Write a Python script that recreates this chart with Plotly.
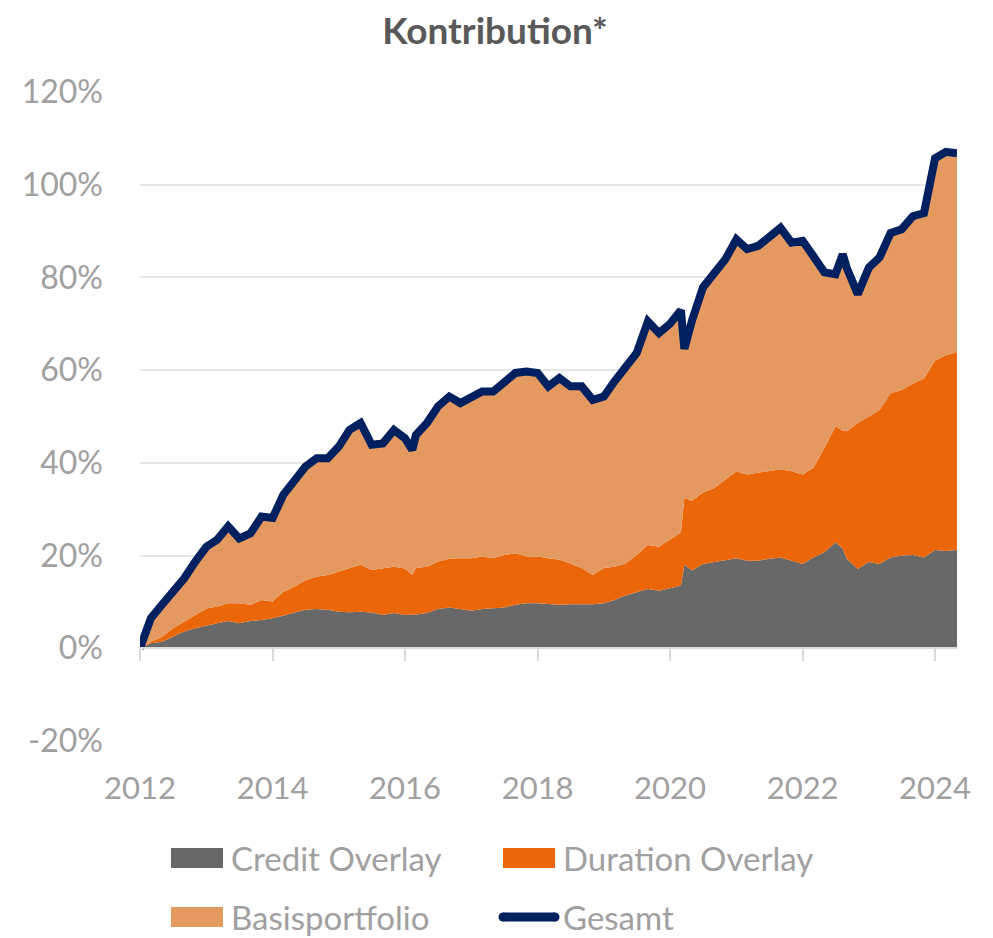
import plotly.graph_objects as go

# bi-monthly readings, contributions in %
dates = [
    "2012-01-01", "2012-03-01", "2012-05-01", "2012-07-01", "2012-09-01", "2012-11-01",
    "2013-01-01", "2013-03-01", "2013-05-01", "2013-07-01", "2013-09-01", "2013-11-01",
    "2014-01-01", "2014-03-01", "2014-05-01", "2014-07-01", "2014-09-01", "2014-11-01",
    "2015-01-01", "2015-03-01", "2015-05-01", "2015-07-01", "2015-09-01", "2015-11-01",
    "2016-01-01", "2016-02-10", "2016-03-01", "2016-05-01", "2016-07-01", "2016-09-01", "2016-11-01",
    "2017-01-01", "2017-03-01", "2017-05-01", "2017-07-01", "2017-09-01", "2017-11-01",
    "2018-01-01", "2018-03-01", "2018-05-01", "2018-07-01", "2018-09-01", "2018-11-01",
    "2019-01-01", "2019-03-01", "2019-05-01", "2019-07-01", "2019-09-01", "2019-11-01",
    "2020-01-01", "2020-03-01", "2020-03-20", "2020-05-01", "2020-07-01", "2020-09-01", "2020-11-01",
    "2021-01-01", "2021-03-01", "2021-05-01", "2021-07-01", "2021-09-01", "2021-11-01",
    "2022-01-01", "2022-03-01", "2022-05-01", "2022-07-01", "2022-08-10", "2022-09-01", "2022-11-01",
    "2023-01-01", "2023-03-01", "2023-05-01", "2023-07-01", "2023-09-01", "2023-11-01",
    "2024-01-01", "2024-03-01", "2024-05-01",
]

credit = [
    0, 1.1, 1.4, 2.5, 3.6, 4.3,
    4.9, 5.4, 5.9, 5.4, 5.9, 6.1,
    6.5, 7.0, 7.7, 8.3, 8.5, 8.3,
    7.9, 7.8, 7.9, 7.7, 7.2, 7.6,
    7.2, 7.2, 7.3, 7.6, 8.5, 8.8, 8.5,
    8.1, 8.5, 8.6, 8.8, 9.4, 9.7,
    9.7, 9.5, 9.4, 9.5, 9.5, 9.5,
    9.7, 10.4, 11.4, 12.1, 12.8, 12.4,
    13.0, 13.5, 18.0, 16.8, 18.2, 18.6, 18.9,
    19.4, 18.9, 18.9, 19.3, 19.6, 18.9,
    18.2, 19.6, 20.7, 22.9, 21.5, 19.3, 17.1,
    18.6, 18.2, 19.6, 20.0, 20.1, 19.6,
    21.2, 21.0, 21.2,
]

duration = [
    0, 0.3, 1.1, 1.8, 2.2, 2.9,
    3.7, 3.6, 3.8, 4.3, 3.5, 4.3,
    3.6, 5.2, 5.6, 6.4, 7.0, 7.5,
    8.6, 9.5, 10.1, 9.2, 10.1, 10.0,
    10.0, 8.6, 10.0, 10.0, 10.2, 10.5, 10.9,
    11.3, 11.3, 10.8, 11.3, 11.1, 10.1,
    10.1, 9.9, 9.7, 8.8, 7.8, 6.3,
    7.6, 7.2, 6.9, 8.0, 9.5, 9.5,
    10.5, 11.5, 14.5, 15.0, 15.4, 16.0, 17.5,
    18.8, 18.6, 19.0, 18.9, 19.0, 19.3,
    19.3, 19.3, 22.5, 25.0, 25.5, 27.5, 31.5,
    31.4, 33.2, 35.4, 35.7, 37.0, 38.6,
    40.9, 42.2, 42.7,
]

basis = [
    0, 5.1, 6.9, 7.9, 9.3, 11.5,
    13.3, 14.4, 16.6, 14.0, 15.4, 18.0,
    18.0, 20.9, 23.0, 24.5, 25.5, 25.2,
    27.0, 29.8, 30.6, 27.0, 26.9, 29.5,
    28.1, 27.0, 28.7, 31.0, 33.5, 35.0, 33.5,
    34.9, 35.6, 36.0, 37.5, 38.9, 39.9,
    39.6, 37.1, 39.2, 38.2, 39.2, 37.8,
    37.0, 40.0, 42.1, 43.6, 48.2, 46.1,
    46.5, 47.9, 32.1, 38.9, 44.3, 46.1, 47.5,
    50.0, 48.6, 48.9, 50.4, 52.1, 49.3,
    50.4, 45.7, 37.9, 32.8, 38.0, 35.3, 27.8,
    32.1, 32.9, 34.6, 34.7, 36.1, 35.7,
    43.6, 43.9, 42.9,
]

gesamt = [
    0, 6.5, 9.4, 12.2, 15.1, 18.7,
    21.9, 23.4, 26.3, 23.7, 24.8, 28.4,
    28.1, 33.1, 36.3, 39.2, 41.0, 41.0,
    43.5, 47.1, 48.6, 43.9, 44.2, 47.1,
    45.3, 42.8, 46.0, 48.6, 52.2, 54.3, 52.9,
    54.3, 55.4, 55.4, 57.6, 59.4, 59.7,
    59.4, 56.5, 58.3, 56.5, 56.5, 53.6,
    54.3, 57.6, 60.4, 63.7, 70.5, 68.0,
    70.0, 72.9, 64.6, 70.7, 77.9, 80.7, 83.9,
    88.2, 86.1, 86.8, 88.6, 90.7, 87.5,
    87.9, 84.6, 81.1, 80.7, 85.0, 82.1, 76.4,
    82.1, 84.3, 89.6, 90.4, 93.2, 93.9,
    105.7, 107.1, 106.8,
]

y_ticks = [-20, 0, 20, 40, 60, 80, 100, 120]
y_labels = ["-20%", "0%", "20%", "40%", "60%", "80%", "100%", "120%"]

FONT = "Lato, Carlito, Calibri, sans-serif"
GREY_TXT = "#a0a0a0"
COLORS = {
    "Credit Overlay": "#686868",
    "Duration Overlay": "#ea6608",
    "Basisportfolio": "#e3995f",
    "Gesamt": "#002060",
}

# the page puts the figure 8px in from the top-left corner
OFF = 8
W, H = 993 - OFF, 938 - OFF
# plot area in page pixels: x 140..957, y 92..741
L, R, T, B = 140, 957, 92, 741


def px(x):
    return (x - L) / (R - L)


def py(y):
    return (B - y) / (B - T)


fig = go.Figure()

for name, vals in [("Credit Overlay", credit), ("Duration Overlay", duration), ("Basisportfolio", basis)]:
    fig.add_trace(go.Scatter(
        x=dates, y=vals, name=name,
        mode="lines", stackgroup="contrib",
        line=dict(width=0, color=COLORS[name]),
        fillcolor=COLORS[name],
    ))

fig.add_trace(go.Scatter(
    x=dates, y=gesamt, name="Gesamt",
    mode="lines",
    line=dict(color=COLORS["Gesamt"], width=8),
))

# invisible helper trace so the tick marks on the zero line are drawn
fig.add_trace(go.Scatter(
    x=dates[:1], y=[0], xaxis="x2", mode="markers",
    marker=dict(opacity=0), showlegend=False, hoverinfo="skip",
))

# legend drawn by hand: 2 x 2 grid with wide boxes
shapes = []
annotations = []
legend_items = [
    ("Credit Overlay", 171, 858, "box"),
    ("Duration Overlay", 503, 858, "box"),
    ("Basisportfolio", 171, 917, "box"),
    ("Gesamt", 503, 917, "line"),
]
for name, x0, yc, kind in legend_items:
    col = COLORS[name]
    if kind == "box":
        shapes.append(dict(
            type="rect", xref="paper", yref="paper",
            x0=px(x0), x1=px(x0 + 52), y0=py(yc + 10), y1=py(yc - 10),
            fillcolor=col, line=dict(width=0),
        ))
    else:
        shapes.append(dict(
            type="line", xref="paper", yref="paper",
            x0=px(x0), x1=px(x0 + 52), y0=py(yc), y1=py(yc),
            line=dict(color=col, width=9),
        ))
        for xe in (x0, x0 + 52):
            shapes.append(dict(
                type="circle", xref="paper", yref="paper",
                xsizemode="pixel", ysizemode="pixel",
                xanchor=px(xe), yanchor=py(yc),
                x0=-4.5, x1=4.5, y0=-4.5, y1=4.5,
                fillcolor=col, line=dict(width=0),
            ))
    annotations.append(dict(
        text=name, xref="paper", yref="paper",
        x=px(x0 + 58), y=py(yc), xanchor="left", yanchor="middle",
        showarrow=False, font=dict(family=FONT, size=33, color=GREY_TXT),
    ))

fig.update_layout(
    width=W, height=H,
    paper_bgcolor="white", plot_bgcolor="white",
    margin=dict(l=L - OFF, r=993 - R, t=T - OFF, b=938 - B),
    font=dict(family=FONT, color=GREY_TXT, size=31),
    title=dict(
        text="<b>Kontribution*</b>", x=(495 - OFF) / W, xanchor="center",
        y=1 - (31 - OFF) / H, yanchor="middle",
        font=dict(family=FONT, size=37, color="#595959"),
    ),
    xaxis=dict(
        type="date", range=["2012-01-01", "2024-05-01"],
        tick0="2012-01-01", dtick="M24", tickformat="%Y",
        showgrid=False, showline=False, zeroline=False,
        ticks="", tickfont=dict(size=31, color=GREY_TXT),
        ticklabelstandoff=26,
    ),
    xaxis2=dict(
        type="date", matches="x", overlaying="x",
        anchor="free", position=20 / 140,
        tick0="2012-01-01", dtick="M24",
        showticklabels=False, showgrid=False, zeroline=False,
        showline=True, linecolor="#d9d9d9", linewidth=2,
        ticks="outside", ticklen=12, tickcolor="#d9d9d9", tickwidth=2,
    ),
    yaxis=dict(
        range=[-20, 120], tickvals=y_ticks, ticktext=y_labels,
        showgrid=True, gridcolor="#e6e6e6", gridwidth=2,
        zeroline=False, showline=False,
        tickfont=dict(size=32, color=GREY_TXT),
        ticklabelstandoff=36,
    ),
    shapes=shapes,
    annotations=annotations,
    showlegend=False,
)

fig.write_html("out.html")
